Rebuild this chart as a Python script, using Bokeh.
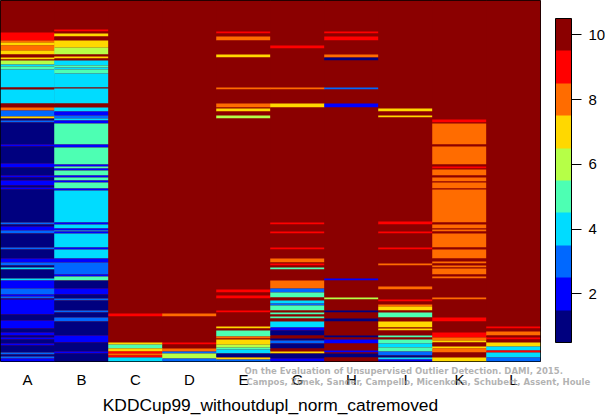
from bokeh.embed import file_html
from bokeh.models import ColorBar, ColumnDataSource, FactorRange, FixedTicker, Label, LinearColorMapper, Range1d
from bokeh.plotting import figure
from bokeh.resources import INLINE

columns = ["A", "B", "C", "D", "E", "G", "H", "I", "K", "L"]
palette = ["#00007f", "#0000ff", "#0068ff", "#00dcff", "#4dffb3", "#b6ff47", "#ffd800", "#ff6c00", "#ff0000", "#8b0000"]
n_rows = 361

# each column: row where a run starts, and the level until the next start
A_rows = [0, 32, 40, 42, 45, 50, 54, 57, 59, 60, 64, 66, 69, 87, 89, 103, 107, 110, 116, 118, 120, 122, 144, 146, 163, 167, 175, 177, 180, 185, 187, 189, 222, 224, 226, 230, 233, 247, 249, 258, 262, 265, 267, 269, 278, 280, 288, 294, 296, 298, 299, 314, 320, 328, 332, 335, 337, 339, 343, 345, 352, 354, 356, 358]
A_vals = [10, 9, 8, 7, 8, 7, 10, 7, 10, 6, 4, 5, 4, 10, 4, 10, 8, 3, 7, 1, 3, 1, 2, 1, 2, 1, 2, 1, 2, 1, 2, 1, 3, 1, 2, 3, 1, 3, 1, 2, 3, 1, 4, 1, 4, 2, 3, 2, 3, 1, 2, 1, 2, 1, 2, 1, 2, 1, 2, 1, 3, 1, 3, 2]

B_rows = [0, 29, 31, 33, 36, 40, 47, 54, 56, 58, 60, 65, 67, 69, 73, 87, 88, 103, 107, 111, 115, 118, 120, 123, 144, 147, 164, 166, 168, 170, 175, 177, 180, 182, 188, 190, 222, 224, 228, 230, 231, 233, 247, 249, 258, 262, 274, 276, 280, 288, 294, 298, 300, 310, 312, 317, 321, 335, 342, 351, 353]
B_vals = [10, 9, 10, 7, 10, 7, 6, 10, 7, 10, 4, 5, 4, 5, 4, 10, 4, 10, 4, 2, 3, 4, 2, 5, 2, 5, 2, 5, 2, 5, 2, 5, 2, 5, 2, 4, 2, 4, 2, 4, 2, 4, 2, 4, 2, 3, 2, 5, 1, 2, 1, 3, 1, 3, 1, 3, 1, 2, 1, 2, 1]

C_rows = [0, 313, 316, 342, 344, 348, 351, 353, 355, 357]
C_vals = [10, 9, 10, 7, 5, 7, 9, 8, 9, 4]

D_rows = [0, 313, 316, 342, 344, 348, 351, 353, 358]
D_vals = [10, 8, 10, 9, 10, 8, 3, 6, 3]

E_rows = [0, 31, 33, 36, 40, 54, 57, 87, 89, 103, 107, 108, 111, 115, 118, 289, 292, 295, 298, 310, 312, 326, 328, 330, 336, 338, 339, 344, 347, 349, 353, 357, 359]
E_vals = [10, 9, 10, 8, 10, 7, 10, 8, 10, 8, 10, 7, 10, 6, 10, 9, 10, 9, 10, 9, 10, 7, 10, 5, 8, 10, 7, 6, 5, 4, 1, 7, 3]

G_rows = [0, 45, 48, 87, 89, 103, 107, 222, 224, 231, 233, 247, 249, 258, 262, 263, 265, 267, 269, 280, 288, 292, 297, 300, 303, 305, 310, 312, 314, 316, 318, 321, 327, 330, 335, 338, 340, 343, 348, 351, 353, 358]
G_vals = [10, 9, 10, 8, 10, 7, 10, 9, 10, 9, 10, 9, 10, 8, 10, 9, 10, 5, 10, 8, 3, 5, 10, 4, 3, 5, 10, 5, 10, 5, 10, 4, 2, 1, 10, 1, 3, 1, 10, 7, 1, 2]

H_rows = [0, 31, 33, 36, 40, 54, 57, 60, 87, 89, 103, 107, 278, 280, 297, 299, 310, 312, 318, 321, 335, 337, 339, 343, 350, 352, 353, 357]
H_vals = [10, 9, 10, 9, 10, 8, 1, 10, 3, 10, 2, 10, 2, 10, 6, 10, 1, 10, 1, 10, 1, 10, 2, 10, 2, 10, 1, 10]

I_rows = [0, 108, 111, 115, 117, 221, 224, 231, 233, 247, 249, 263, 265, 286, 289, 299, 301, 304, 306, 310, 312, 317, 321, 327, 328, 330, 335, 337, 339, 343, 347, 351, 355, 357, 359]
I_vals = [10, 7, 10, 7, 10, 9, 10, 9, 10, 9, 10, 8, 10, 8, 10, 9, 10, 8, 7, 10, 5, 10, 7, 10, 7, 10, 5, 10, 5, 4, 5, 3, 1, 4, 2]

K_rows = [0, 119, 122, 123, 144, 146, 164, 166, 168, 169, 175, 177, 181, 182, 188, 189, 222, 224, 228, 229, 231, 233, 247, 249, 258, 261, 263, 265, 267, 268, 274, 276, 278, 297, 299, 317, 321, 332, 337, 340, 342, 346, 348, 352, 357]
K_vals = [10, 9, 10, 8, 10, 8, 10, 9, 10, 8, 10, 8, 10, 8, 10, 8, 10, 8, 10, 8, 10, 8, 10, 8, 10, 8, 10, 8, 10, 8, 10, 8, 10, 8, 10, 9, 10, 9, 8, 7, 10, 7, 8, 10, 7]

L_rows = [0, 326, 328, 331, 335, 337, 339, 342, 346, 350, 352, 357]
L_vals = [10, 9, 10, 8, 10, 9, 10, 7, 4, 9, 4, 3]

all_rows = [A_rows, B_rows, C_rows, D_rows, E_rows, G_rows, H_rows, I_rows, K_rows, L_rows]
all_vals = [A_vals, B_vals, C_vals, D_vals, E_vals, G_vals, H_vals, I_vals, K_vals, L_vals]

xs, bottoms, tops, levels = [], [], [], []
for name, rows, vals in zip(columns, all_rows, all_vals):
    ends = rows[1:] + [n_rows]
    for start, end, val in zip(rows, ends, vals):
        xs.append(name)
        bottoms.append(start)
        tops.append(end)
        levels.append(val)

source = ColumnDataSource(data=dict(x=xs, bottom=bottoms, top=tops, level=levels))
mapper = LinearColorMapper(palette=palette, low=0.5, high=10.5)

p = figure(x_range=FactorRange(*columns, range_padding=0), y_range=Range1d(n_rows, 0),
           frame_width=540, frame_height=361, min_border_left=0, min_border_top=0, min_border_right=65, min_border_bottom=54,
           output_backend="svg", toolbar_location=None)
p.vbar(x="x", bottom="bottom", top="top", width=1.01, source=source,
       fill_color={"field": "level", "transform": mapper}, line_color=None)

p.background_fill_color = palette[-1]
p.grid.visible = False
p.yaxis.visible = False
p.outline_line_color = "#000000"
p.xaxis.axis_line_color = None
p.xaxis.major_tick_line_color = None
p.xaxis.minor_tick_line_color = None
p.xaxis.major_label_text_font = "Liberation Sans"
p.xaxis.major_label_text_font_size = "15px"
p.xaxis.major_label_text_color = "#000000"
p.xaxis.major_label_standoff = 3
p.xaxis.axis_label = "KDDCup99_withoutdupl_norm_catremoved"
p.xaxis.axis_label_text_font = "Liberation Sans"
p.xaxis.axis_label_text_font_size = "17.4px"
p.xaxis.axis_label_text_font_style = "normal"
p.xaxis.axis_label_text_color = "#000000"
p.xaxis.axis_label_standoff = 4

bar = ColorBar(color_mapper=mapper, ticker=FixedTicker(ticks=[2, 4, 6, 8, 10]), width=16, height=324,
               location=(15, 19), padding=0, margin=0, bar_line_color="#000000",
               major_tick_in=0, major_tick_out=10, major_tick_line_color="#000000",
               major_label_text_font="Liberation Sans", major_label_text_font_size="15px",
               major_label_text_color="#000000", label_standoff=7, background_fill_alpha=0)
p.add_layout(bar, "right")

for text, left, up in [("On the Evaluation of Unsupervised Outlier Detection. DAMI, 2015.", 244, 52),
                       ("Campos, Zimek, Sander, Campello, Micenkova, Schubert, Assent, Houle", 246, 51)]:
    p.add_layout(Label(x=left, y=up, x_units="screen", y_units="screen", text=text,
                       text_font="DejaVu Sans", text_font_style="bold", text_font_size="8.55px",
                       text_color="#999999", text_alpha=0.75), "below")

open("out.html", "w").write(file_html(p, INLINE))
